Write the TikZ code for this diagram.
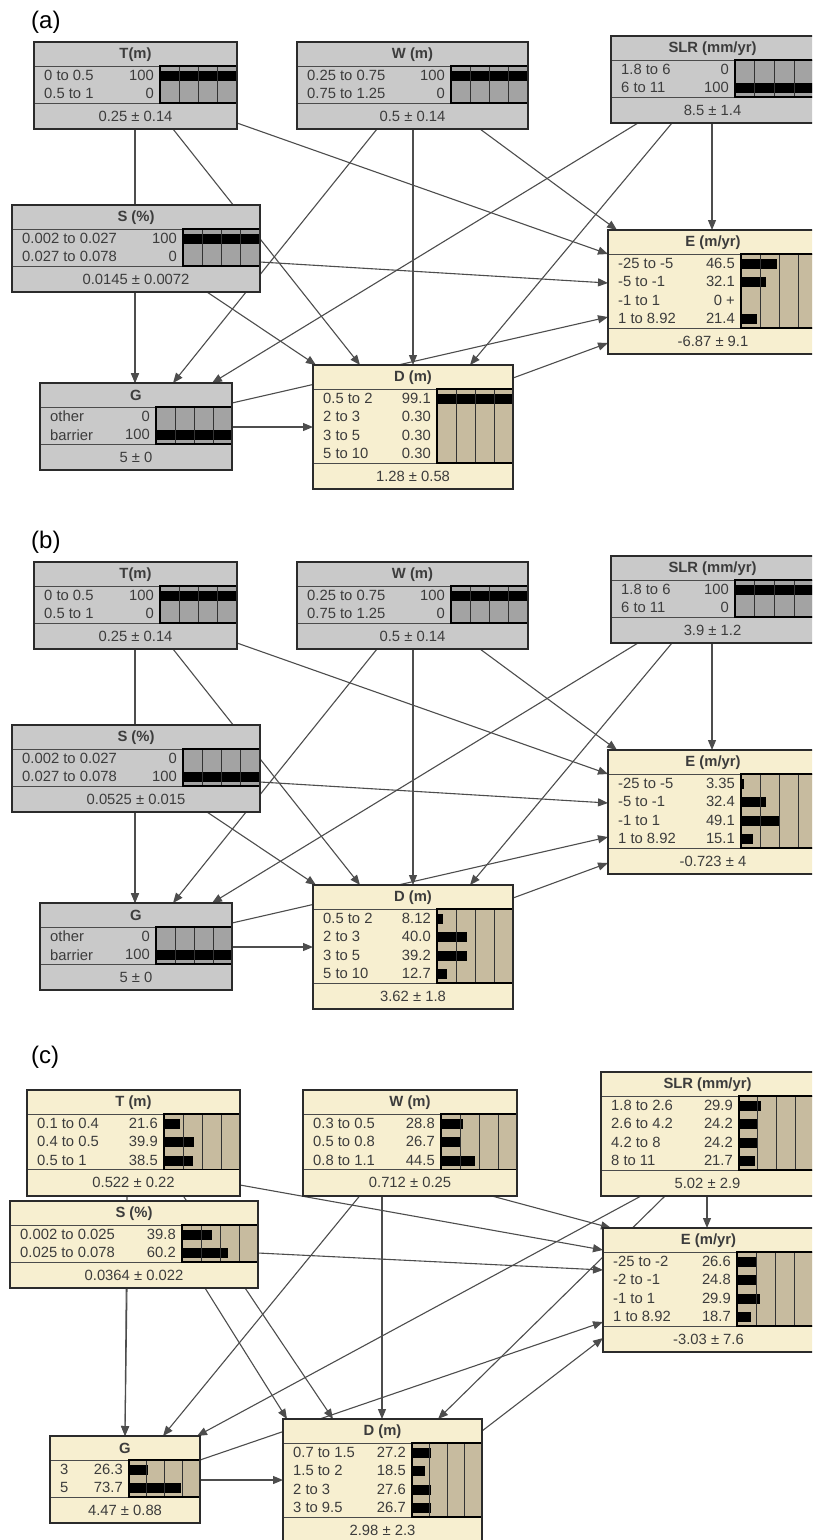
\documentclass[tikz,border=0pt]{standalone}
\usepackage{fontspec}
\setmainfont{Liberation Sans}
\usetikzlibrary{arrows.meta,calc}
\pgfdeclarelayer{links}
\pgfsetlayers{links,main}

\definecolor{nodegrey}{HTML}{C9C9C9}
\definecolor{bargrey}{HTML}{A3A3A3}
\definecolor{nodebeige}{HTML}{F7EFD0}
\definecolor{barbeige}{HTML}{C7BB9F}
\definecolor{inktext}{HTML}{3C3C3C}
\definecolor{edgeink}{HTML}{4D4D4D}
\definecolor{frameink}{HTML}{2B2B2B}

\tikzset{
  greynode/.style={rectangle,fill=nodegrey,inner sep=0pt,outer sep=0pt},
  greynodebar/.style={fill=bargrey},
  beigenode/.style={rectangle,fill=nodebeige,inner sep=0pt,outer sep=0pt},
  beigenodebar/.style={fill=barbeige},
  statetext/.style={font=\fontsize{14.8}{17}\selectfont,text=inktext,inner sep=0pt},
  titletext/.style={font=\fontsize{14.8}{17}\selectfont\bfseries,text=inktext,inner sep=0pt},
  paneltag/.style={font=\fontsize{24}{28}\selectfont,text=black,inner sep=0pt,anchor=west},
  divider/.style={draw=frameink!85,line width=1pt},
  colline/.style={draw=black!80,line width=0.8pt},
  barframe/.style={draw=black,line width=1.5pt},
  nodeframe/.style={draw=frameink,line width=2pt},
  link/.style={draw=edgeink,line width=1.1pt,-{Triangle[length=10pt,width=8pt]}}
}

% #1 name, #2 scheme, #3 top-left corner, #4 width, #5 bar area width,
% #6 number of states, #7 title, #8 states label/value/percent, #9 mean line
\newcommand\bnnode[9]{%
  \pgfmathsetmacro\bnh{24+#6*18.5+26}%
  \pgfmathsetmacro\bnsy{24+#6*18.5}%
  \pgfmathsetmacro\bnbx{#4-#5}%
  \begin{scope}[shift={(#3)}]
    \node[#2,minimum width=#4pt,minimum height=\bnh pt,anchor=north west] (#1) at (0,0) {};
    \draw[divider] (0,24) -- (#4,24) (0,\bnsy) -- (#4,\bnsy);
    \node[titletext] at ({#4/2},12.5) {#7};
    \node[statetext] at ({#4/2},{(\bnsy+\bnh)/2}) {#9};
    \fill[#2bar] (\bnbx,24) rectangle (#4,\bnsy);
    \foreach \bnlab/\bnval/\bnpct [count=\bni] in {#8} {
      \pgfmathsetmacro\bnry{24+(\bni-0.5)*18.5}
      \node[statetext,anchor=west] at (10,\bnry) {\bnlab};
      \node[statetext,anchor=east] at (\bnbx-6,\bnry) {\bnval};
      \fill[black] (\bnbx,\bnry-4.5) rectangle ++({\bnpct/100*#5},10);
    }
    \foreach \bnk in {1,2,3}
      \draw[colline] ({\bnbx+\bnk*#5/4},24) -- ({\bnbx+\bnk*#5/4},\bnsy);
    \draw[barframe] (\bnbx,24) rectangle (#4,\bnsy);
    \draw[nodeframe] (0,0) rectangle (#4,\bnh);
  \end{scope}%
}

% connectors shared by the two networks with the same layout
\newcommand\linksab[1]{%
  \draw[link] ($(T#1.south west)+(101,0)$) -- ($(G#1.north west)+(95,0)$);
  \draw[link] ($(S#1.south west)+(123,0)$) -- ($(G#1.north west)+(95,0)$);
  \draw[link] ($(T#1.south west)+(139,0)$) -- ($(D#1.north west)+(47,0)$);
  \draw[link] ($(S#1.south west)+(195,0)$) -- ($(D#1.north west)+(3,0)$);
  \draw[link] ($(W#1.south west)+(80,0)$) -- ($(G#1.north west)+(133,0)$);
  \draw[link] ($(W#1.south west)+(116,0)$) -- ($(D#1.north west)+(100,0)$);
  \draw[link] ($(W#1.south west)+(183,0)$) -- ($(E#1.north west)+(9,0)$);
  \draw[link] ($(SLR#1.south west)+(27,0)$) -- ($(G#1.north west)+(172,0)$);
  \draw[link] ($(SLR#1.south west)+(61,0)$) -- ($(D#1.north west)+(157,0)$);
  \draw[link] ($(SLR#1.south west)+(101,0)$) -- ($(E#1.north west)+(104,0)$);
  \draw[link] ($(T#1.north east)+(0,81)$) -- ($(E#1.north west)+(0,24)$);
  \draw[link] ($(S#1.north east)+(0,57)$) -- ($(E#1.north west)+(0,53)$);
  \draw[link] ($(G#1.north east)+(0,20)$) -- ($(E#1.north west)+(0,87)$);
  \draw[link] ($(D#1.north east)+(0,13)$) -- ($(E#1.north west)+(0,113)$);
  \draw[link] ($(G#1.north east)+(0,44)$) -- ($(D#1.north west)+(0,62)$);
}

\begin{document}
\begin{tikzpicture}[x=1pt,y=-1pt]
\useasboundingbox (0,0) rectangle (812,1540);
\clip (0,0) rectangle (812,1540);

% ---------- (a) ----------
\node[paneltag] (taga) at (31,22) {(a)};
\bnnode{Ta}{greynode}{34,42}{203}{77}{2}{T(m)}{0 to 0.5/100/100, 0.5 to 1/0/0}{0.25 ± 0.14}
\bnnode{Wa}{greynode}{297,42}{231}{77}{2}{W (m)}{0.25 to 0.75/100/100, 0.75 to 1.25/0/0}{0.5 ± 0.14}
\bnnode{SLRa}{greynode}{611,36}{203}{79}{2}{SLR (mm/yr)}{1.8 to 6/0/0, 6 to 11/100/100}{8.5 ± 1.4}
\bnnode{Sa}{greynode}{12,205}{248}{77}{2}{S (\%)}{0.002 to 0.027/100/100, 0.027 to 0.078/0/0}{0.0145 ± 0.0072}
\bnnode{Ea}{beigenode}{608,230}{210}{77}{4}{E (m/yr)}{-25 to -5/46.5/46.5, -5 to -1/32.1/32.1, -1 to 1/0 +/0, 1 to 8.92/21.4/21.4}{-6.87 ± 9.1}
\bnnode{Ga}{greynode}{40,383}{192}{76}{2}{G}{other/0/0, barrier/100/100}{5 ± 0}
\bnnode{Da}{beigenode}{313,365}{200}{76}{4}{D (m)}{0.5 to 2/99.1/99.1, 2 to 3/0.30/0.3, 3 to 5/0.30/0.3, 5 to 10/0.30/0.3}{1.28 ± 0.58}

% ---------- (b) ----------
\node[paneltag] (tagb) at (31,542) {(b)};
\bnnode{Tb}{greynode}{34,562}{203}{77}{2}{T(m)}{0 to 0.5/100/100, 0.5 to 1/0/0}{0.25 ± 0.14}
\bnnode{Wb}{greynode}{297,562}{231}{77}{2}{W (m)}{0.25 to 0.75/100/100, 0.75 to 1.25/0/0}{0.5 ± 0.14}
\bnnode{SLRb}{greynode}{611,556}{203}{79}{2}{SLR (mm/yr)}{1.8 to 6/100/100, 6 to 11/0/0}{3.9 ± 1.2}
\bnnode{Sb}{greynode}{12,725}{248}{77}{2}{S (\%)}{0.002 to 0.027/0/0, 0.027 to 0.078/100/100}{0.0525 ± 0.015}
\bnnode{Eb}{beigenode}{608,750}{210}{77}{4}{E (m/yr)}{-25 to -5/3.35/3.35, -5 to -1/32.4/32.4, -1 to 1/49.1/49.1, 1 to 8.92/15.1/15.1}{-0.723 ± 4}
\bnnode{Gb}{greynode}{40,903}{192}{76}{2}{G}{other/0/0, barrier/100/100}{5 ± 0}
\bnnode{Db}{beigenode}{313,885}{200}{76}{4}{D (m)}{0.5 to 2/8.12/8.12, 2 to 3/40.0/40.0, 3 to 5/39.2/39.2, 5 to 10/12.7/12.7}{3.62 ± 1.8}

% ---------- (c) ----------
\node[paneltag] (tagc) at (31,1057) {(c)};
\bnnode{Tc}{beigenode}{27,1090}{213}{76}{3}{T (m)}{0.1 to 0.4/21.6/21.6, 0.4 to 0.5/39.9/39.9, 0.5 to 1/38.5/38.5}{0.522 ± 0.22}
\bnnode{Wc}{beigenode}{303,1090}{214}{76}{3}{W (m)}{0.3 to 0.5/28.8/28.8, 0.5 to 0.8/26.7/26.7, 0.8 to 1.1/44.5/44.5}{0.712 ± 0.25}
\bnnode{SLRc}{beigenode}{601,1072}{213}{75}{4}{SLR (mm/yr)}{1.8 to 2.6/29.9/29.9, 2.6 to 4.2/24.2/24.2, 4.2 to 8/24.2/24.2, 8 to 11/21.7/21.7}{5.02 ± 2.9}
\bnnode{Sc}{beigenode}{10,1201}{248}{76}{2}{S (\%)}{0.002 to 0.025/39.8/39.8, 0.025 to 0.078/60.2/60.2}{0.0364 ± 0.022}
\bnnode{Ec}{beigenode}{603,1228}{211}{77}{4}{E (m/yr)}{-25 to -2/26.6/26.6, -2 to -1/24.8/24.8, -1 to 1/29.9/29.9, 1 to 8.92/18.7/18.7}{-3.03 ± 7.6}
\bnnode{Gc}{beigenode}{50,1436}{150}{71}{2}{G}{3/26.3/26.3, 5/73.7/73.7}{4.47 ± 0.88}
\bnnode{Dc}{beigenode}{283,1419}{199}{70}{4}{D (m)}{0.7 to 1.5/27.2/27.2, 1.5 to 2/18.5/18.5, 2 to 3/27.6/27.6, 3 to 9.5/26.7/26.7}{2.98 ± 2.3}

\begin{pgfonlayer}{links}
  \fill[white] (0,0) rectangle (812,1540);
  \linksab{a}
  \linksab{b}
  % connectors of the third network
  \draw[link] ($(Tc.south west)+(100,0)$) -- ($(Gc.north west)+(75,0)$);
  \draw[link] ($(Sc.south west)+(117,0)$) -- ($(Gc.north west)+(75,0)$);
  \draw[link] ($(Tc.south west)+(156,0)$) -- ($(Dc.north west)+(50,0)$);
  \draw[link] ($(Sc.south west)+(195,0)$) -- ($(Dc.north west)+(4,0)$);
  \draw[link] ($(Wc.south west)+(57,0)$) -- ($(Gc.north west)+(113,0)$);
  \draw[link] ($(Wc.south west)+(79,0)$) -- ($(Dc.north west)+(99,0)$);
  \draw[link] ($(Wc.south west)+(187,0)$) -- ($(Ec.north west)+(8,0)$);
  \draw[link] ($(SLRc.south west)+(40,0)$) -- ($(Gc.north west)+(147,0)$);
  \draw[link] ($(SLRc.south west)+(64,0)$) -- ($(Dc.north west)+(155,0)$);
  \draw[link] ($(SLRc.south west)+(106,0)$) -- ($(Ec.north west)+(104,0)$);
  \draw[link] ($(Tc.north east)+(0,95)$) -- ($(Ec.north west)+(0,22)$);
  \draw[link] ($(Sc.north east)+(0,52)$) -- ($(Ec.north west)+(0,42)$);
  \draw[link] ($(Gc.north east)+(0,24)$) -- ($(Ec.north west)+(0,94)$);
  \draw[link] ($(Dc.north east)+(0,12)$) -- ($(Ec.north west)+(0,110)$);
  \draw[link] ($(Gc.north east)+(0,44)$) -- ($(Dc.north west)+(0,61)$);
\end{pgfonlayer}
\end{tikzpicture}
\end{document}
